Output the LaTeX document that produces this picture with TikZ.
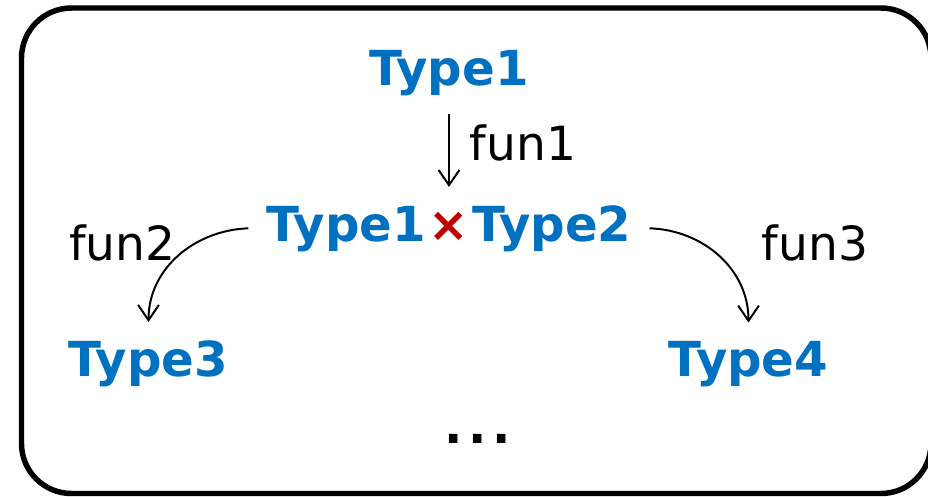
\documentclass[tikz,border=0pt]{standalone}
\usepackage{fontspec}
\setmainfont{DejaVu Sans}
\usetikzlibrary{arrows.meta}

\definecolor{typeblue}{HTML}{0070C0}
\definecolor{prodred}{HTML}{C00000}

\begin{document}
\begin{tikzpicture}[x=0.025cm, y=0.025cm]
				\tikzstyle{type}=[font=\fontsize{34.3}{40}\bfseries\selectfont, text=typeblue, inner sep=0.45cm]
				\tikzstyle{fun}=[font=\fontsize{33.5}{40}\selectfont, inner sep=0pt]
				\tikzstyle{arrow}=[draw, line width=1.4pt, -{Straight Barb[length=0.38cm, width=0.52cm, line width=1.4pt]}]
				\newcommand\Xmid{449}
				\newcommand\Ytop{411}
				\newcommand\Ypair{255}
				\newcommand\Ylow{120}

				\clip (0,0) rectangle (928,496);

				 % Frame
				\draw [line width=3.9pt, rounded corners=1.25cm] (21.5,2.5) rectangle (931,488);

				 % Types
				\node [type, anchor=base] at (\Xmid,\Ytop) (t1) {Type1};
				\node [type, anchor=base] at (\Xmid,\Ypair) (pair) {Type1\kern0.07cm\textcolor{prodred}{×}\kern0.07cm Type2};
				\node [type, anchor=base] at (148.5,\Ylow) (t3) {Type3};
				\node [type, anchor=base] at (748.5,\Ylow) (t4) {Type4};
				\node [fun, anchor=base, font=\fontsize{34.3}{40}\bfseries\selectfont] at (477.5,53) (dots) {.\kern0.15cm.\kern0.15cm.};

				 % Functions
				\node [fun, anchor=base] at (122.5,236) (f2) {fun2};
				\node [fun, anchor=base] at (815,236) (f3) {fun3};

				 % Path Arrows
				\path [arrow] (t1) -- node [fun, right=0.5cm, yshift=0.18cm] (f1) {fun1} (pair);
				\path [arrow] (pair.west) to [out=182, in=90] (t3.north);
				\path [arrow] (pair.east) to [out=-2, in=90] (t4.north);

			\end{tikzpicture}
\end{document}
